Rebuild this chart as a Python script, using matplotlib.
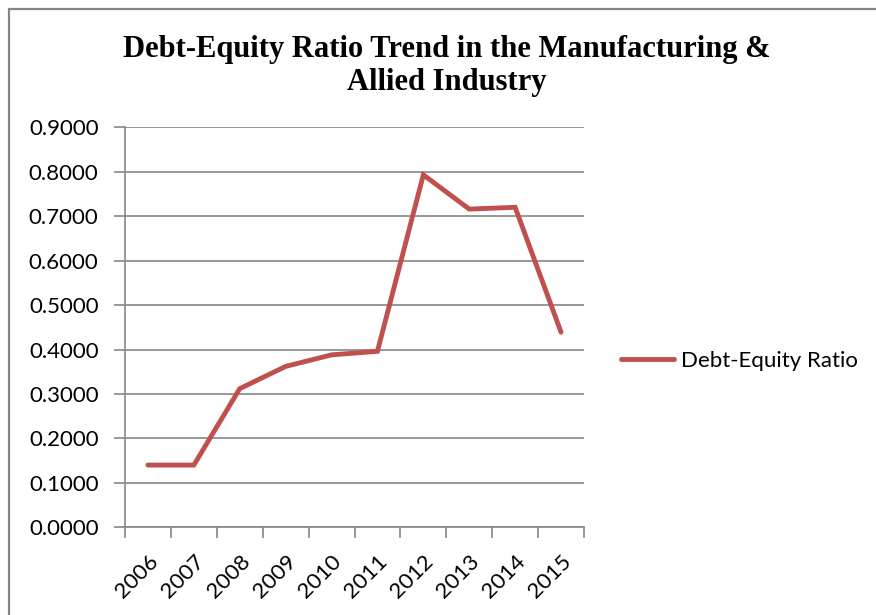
import matplotlib
matplotlib.use("Agg")
import matplotlib.pyplot as plt
from matplotlib.patches import Rectangle
from matplotlib.lines import Line2D

years = ["2006", "2007", "2008", "2009", "2010", "2011", "2012", "2013", "2014", "2015"]
debt_equity = [0.140, 0.140, 0.312, 0.362, 0.388, 0.396, 0.793, 0.716, 0.720, 0.439]
y_ticks = [0.0, 0.1, 0.2, 0.3, 0.4, 0.5, 0.6, 0.7, 0.8, 0.9]
series_name = "Debt-Equity Ratio"
title = "Debt-Equity Ratio Trend in the Manufacturing &\nAllied Industry"

W, H = 876, 615
fig = plt.figure(figsize=(W / 100, H / 100), dpi=100)
fig.patch.set_facecolor("white")

grid_col = "#868686"
line_col = "#C0504D"
label_font = "Lato"
label_size = 16

# chart frame
fig.patches.append(Rectangle((8.5 / W, -0.01), 1.0, 1 - 8.5 / H + 0.01,
                             transform=fig.transFigure, fill=False,
                             edgecolor=grid_col, linewidth=1.6))

ax = fig.add_axes([125 / W, 1 - 527.3 / H, (584 - 125) / W, (527.3 - 127.3) / H])
x = list(range(len(years)))
ax.plot(x, debt_equity, color=line_col, linewidth=3.5, solid_capstyle="round",
        solid_joinstyle="miter", label=series_name, zorder=3)

ax.set_xlim(-0.5, len(years) - 0.5)
ax.set_ylim(0, 0.9)
ax.set_yticks(y_ticks)
ax.set_yticklabels([f"{v:.4f}" for v in y_ticks], fontsize=label_size, family=label_font)
ax.set_xticks(x)
ax.set_xticklabels(years, fontsize=label_size, family=label_font, rotation=45,
                   ha="right", rotation_mode="anchor")
ax.set_xticks([i - 0.5 for i in range(len(years) + 1)], minor=True)
ax.tick_params(axis="x", which="major", length=0, pad=17)
ax.tick_params(axis="x", which="minor", length=8, color=grid_col, width=1.2)
ax.tick_params(axis="y", length=8, color=grid_col, width=1.2, pad=11)

ax.grid(axis="y", color=grid_col, linewidth=1.2)
ax.set_axisbelow(True)
for side in ("top", "right"):
    ax.spines[side].set_visible(False)
for side in ("left", "bottom"):
    ax.spines[side].set_color(grid_col)
    ax.spines[side].set_linewidth(1.2)

fig.text(447 / W, 1 - 66 / H, title, ha="center", va="center",
         family="Liberation Serif", fontweight="bold", fontsize=22,
         linespacing=1.2)

handle = Line2D([], [], color=line_col, linewidth=3.5, solid_capstyle="round")
fig.legend([handle], [series_name], loc="center left",
           bbox_to_anchor=(621 / W, 1 - 361 / H), frameon=False,
           prop={"family": label_font, "size": label_size}, handlelength=2.4,
           handletextpad=0.3, borderaxespad=0, borderpad=0)

fig.savefig("out.png", dpi=100, facecolor="white")
